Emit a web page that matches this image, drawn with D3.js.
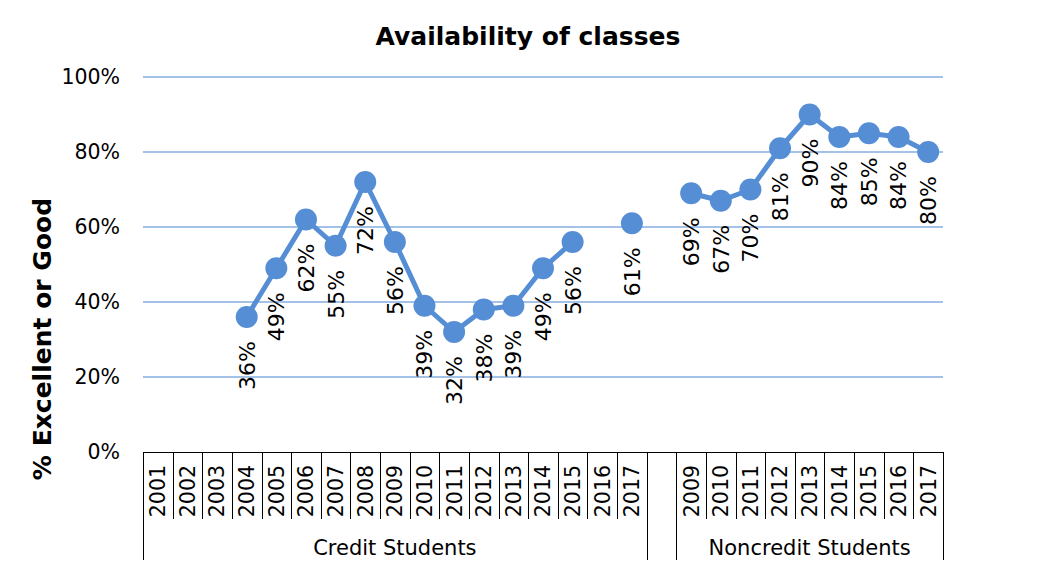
<!DOCTYPE html>
<html><head><meta charset="utf-8">
<script src="https://cdn.jsdelivr.net/npm/d3@7"></script>
<style>body{margin:0;background:#fff;} svg{display:block;font-family:"DejaVu Sans",Verdana,sans-serif;}</style>
</head><body><svg id="c" width="1054" height="575"></svg>
<script>
const groups = ["Credit Students", "", "Noncredit Students"];
const creditYears = ["2001","2002","2003","2004","2005","2006","2007","2008","2009","2010","2011","2012","2013","2014","2015","2016","2017"];
const creditValues = [null,null,null,0.36,0.49,0.62,0.55,0.72,0.56,0.39,0.32,0.38,0.39,0.49,0.56,null,0.61];
const noncreditYears = ["2009","2010","2011","2012","2013","2014","2015","2016","2017"];
const noncreditValues = [0.69,0.67,0.70,0.81,0.90,0.84,0.85,0.84,0.80];
const yTicks = [0,0.2,0.4,0.6,0.8,1.0];
const title = "Availability of classes";
const yTitle = "% Excellent or Good";

const svg = d3.select("#c");
const L = 143, R = 943, T = 77, B = 452;
const color = "#568ED6", grid = "#86AEE0";

const cats = [];
creditYears.forEach((y,i)=>cats.push({key:"c"+y, label:y, group:0, v:creditValues[i]}));
cats.push({key:"gap", label:"", group:1, v:null});
noncreditYears.forEach((y,i)=>cats.push({key:"n"+y, label:y, group:2, v:noncreditValues[i]}));

const x = d3.scaleBand().domain(cats.map(d=>d.key)).range([L,R]).paddingInner(0).paddingOuter(0);
const y = d3.scaleLinear().domain([0,1]).range([B,T]);
const cx = k => x(k) + x.bandwidth()/2;

svg.append("g").selectAll("line").data(yTicks.filter(t=>t>0)).join("line")
  .attr("x1",L).attr("x2",R).attr("y1",d=>y(d)).attr("y2",d=>y(d))
  .attr("stroke",grid).attr("stroke-width",1.5);

svg.append("g").selectAll("text").data(yTicks).join("text")
  .attr("x",120).attr("y",d=>y(d)).attr("dy","0.36em").attr("text-anchor","end")
  .attr("font-size",20.5).attr("fill","#000").text(d3.format(".0%"));

const ax = svg.append("g").attr("stroke","#000").attr("stroke-width",1).attr("shape-rendering","crispEdges");
ax.append("line").attr("x1",L).attr("x2",R).attr("y1",B).attr("y2",B);
const bounds = cats.map(d=>x(d.key));
bounds.push(R);
bounds.forEach((bx,i)=>{
  const prev = cats[i-1], next = cats[i];
  const full = !prev || !next || prev.group!==next.group;
  ax.append("line").attr("x1",Math.round(bx)+0.5).attr("x2",Math.round(bx)+0.5)
    .attr("y1",B).attr("y2", full ? 560 : 519);
});

svg.append("g").selectAll("text").data(cats.filter(d=>d.label)).join("text")
  .attr("transform",d=>`translate(${cx(d.key)},465) rotate(-90)`)
  .attr("text-anchor","end").attr("dy","0.36em").attr("font-size",20.5).text(d=>d.label);

[[0,"Credit Students"],[2,"Noncredit Students"]].forEach(([g,lab])=>{
  const cs = cats.filter(d=>d.group===g);
  const x0 = x(cs[0].key), x1 = x(cs[cs.length-1].key)+x.bandwidth();
  svg.append("text").attr("x",(x0+x1)/2).attr("y",555).attr("text-anchor","middle")
    .attr("font-size",21).text(groups[g]);
});

const line = d3.line().defined(d=>d.v!==null).x(d=>cx(d.key)).y(d=>y(d.v));
svg.append("path").datum(cats).attr("d",line).attr("fill","none")
  .attr("stroke",color).attr("stroke-width",5).attr("stroke-linejoin","round");

const pts = cats.filter(d=>d.v!==null);
svg.append("g").selectAll("circle").data(pts).join("circle")
  .attr("cx",d=>cx(d.key)).attr("cy",d=>y(d.v)).attr("r",11).attr("fill",color);

svg.append("g").selectAll("text").data(pts).join("text")
  .attr("transform",d=>`translate(${cx(d.key)},${y(d.v)+24}) rotate(-90)`)
  .attr("text-anchor","end").attr("dy","0.36em").attr("font-size",22)
  .text(d=>d3.format(".0%")(d.v));

svg.append("text").attr("x",528).attr("y",45).attr("text-anchor","middle")
  .attr("font-size",25).attr("font-weight","bold").text(title);
svg.append("text").attr("transform","translate(42,339) rotate(-90)")
  .attr("text-anchor","middle").attr("dy","0.36em")
  .attr("font-size",25).attr("font-weight","bold").text(yTitle);
</script></body></html>
